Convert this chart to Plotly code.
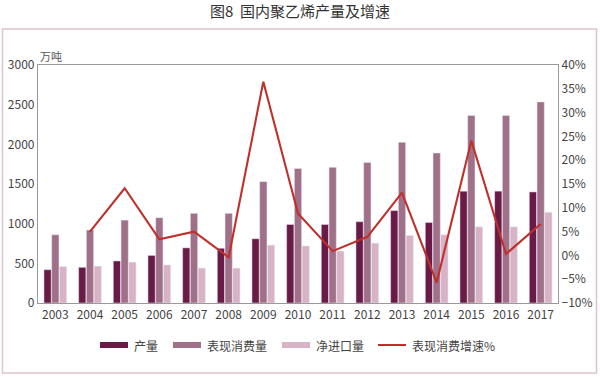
import plotly.graph_objects as go

years = [str(y) for y in range(2003, 2018)]
production = [420, 450, 530, 600, 695, 690, 810, 990, 990, 1025, 1165, 1015, 1410, 1410, 1400]
consumption = [860, 920, 1045, 1075, 1130, 1130, 1530, 1695, 1710, 1770, 2025, 1890, 2365, 2365, 2535]
net_import = [460, 465, 515, 480, 440, 440, 730, 720, 655, 755, 850, 860, 960, 960, 1145]
growth = [None, 5.0, 14.1, 3.4, 5.0, -0.4, 36.5, 8.8, 0.9, 3.9, 13.2, -5.7, 24.1, 0.3, 6.6]

left_ticks = [0, 500, 1000, 1500, 2000, 2500, 3000]
right_ticks = [-10, -5, 0, 5, 10, 15, 20, 25, 30, 35, 40]
right_labels = ["−10%", "−5%", "0%", "5%", "10%", "15%", "20%", "25%", "30%", "35%", "40%"]

names = ["产量", "表现消费量", "净进口量", "表现消费增速%"]
c_prod = "#6a1a47"
c_cons = "#a06f88"
c_imp = "#d8b2c5"
c_line = "#c0302b"

W, H = 600, 377
L, R, T, B = 38, 558, 65, 303

def px(x):
    return (x - L) / (R - L)

def py(y):
    return (B - y) / (B - T)

fig = go.Figure()
fig.add_bar(x=years, y=production, name=names[0], marker_color=c_prod, showlegend=False)
fig.add_bar(x=years, y=consumption, name=names[1], marker_color=c_cons, showlegend=False)
fig.add_bar(x=years, y=net_import, name=names[2], marker_color=c_imp, showlegend=False)
fig.add_scatter(x=years, y=growth, name=names[3], yaxis="y2", mode="lines",
                line=dict(color=c_line, width=2.1), showlegend=False)

font = "Noto Sans CJK SC, Roboto, sans-serif"
fig.update_layout(
    width=W, height=H,
    margin=dict(l=L, r=W - R, t=T, b=H - B, pad=0, autoexpand=False),
    paper_bgcolor="white", plot_bgcolor="white",
    barmode="group", bargap=0.33, bargroupgap=0.06,
    font=dict(family=font, size=12, color="#444"),
    xaxis=dict(showgrid=False, showline=True, linecolor="#999", linewidth=1.2,
               mirror=True, ticks="", automargin=False,
               tickfont=dict(size=12, color="#444")),
    yaxis=dict(range=[0, 3000], tickvals=left_ticks, showgrid=False, zeroline=False,
               showline=True, linecolor="#999", linewidth=1.2, ticks="",
               automargin=False, tickfont=dict(size=12, color="#444")),
    yaxis2=dict(range=[-10, 40], tickvals=right_ticks, ticktext=right_labels,
                overlaying="y", side="right", showgrid=False, zeroline=False,
                showline=True, linecolor="#999", linewidth=1.2, ticks="",
                automargin=False, tickfont=dict(size=12, color="#444")),
)

shapes = []
ann = []
# outer frame
shapes.append(dict(type="rect", xref="paper", yref="paper",
                   x0=px(2.5), x1=px(596.5), y0=py(373), y1=py(29),
                   line=dict(color="#dcc3d0", width=1.5), fillcolor="rgba(0,0,0,0)", layer="below"))
# title
ann.append(dict(text="图8  国内聚乙烯产量及增速", xref="paper", yref="paper",
                x=px(300), y=py(11), showarrow=False, xanchor="center", yanchor="middle",
                font=dict(family="Noto Sans CJK SC, serif", size=15, color="#333")))
# unit label
ann.append(dict(text="万吨", xref="paper", yref="paper", x=px(38), y=py(56),
                showarrow=False, xanchor="left", yanchor="middle",
                font=dict(size=11, color="#555")))
# manual legend
leg = [(100, c_prod, names[0], "bar"), (173, c_cons, names[1], "bar"),
       (282, c_imp, names[2], "bar"), (378, c_line, names[3], "line")]
ly = 345
for x0, col, nm, kind in leg:
    if kind == "bar":
        shapes.append(dict(type="rect", xref="paper", yref="paper",
                           x0=px(x0), x1=px(x0 + 28), y0=py(ly + 3), y1=py(ly - 3),
                           fillcolor=col, line=dict(width=0)))
    else:
        shapes.append(dict(type="line", xref="paper", yref="paper",
                           x0=px(x0), x1=px(x0 + 28), y0=py(ly), y1=py(ly),
                           line=dict(color=col, width=2)))
    ann.append(dict(text=nm, xref="paper", yref="paper", x=px(x0 + 32), y=py(ly),
                    showarrow=False, xanchor="left", yanchor="middle",
                    font=dict(size=12, color="#444")))

fig.update_layout(shapes=shapes, annotations=ann)
fig.write_html("out.html", config={"displayModeBar": False},
               post_script="document.body.style.margin='0';document.body.style.overflow='hidden';")
